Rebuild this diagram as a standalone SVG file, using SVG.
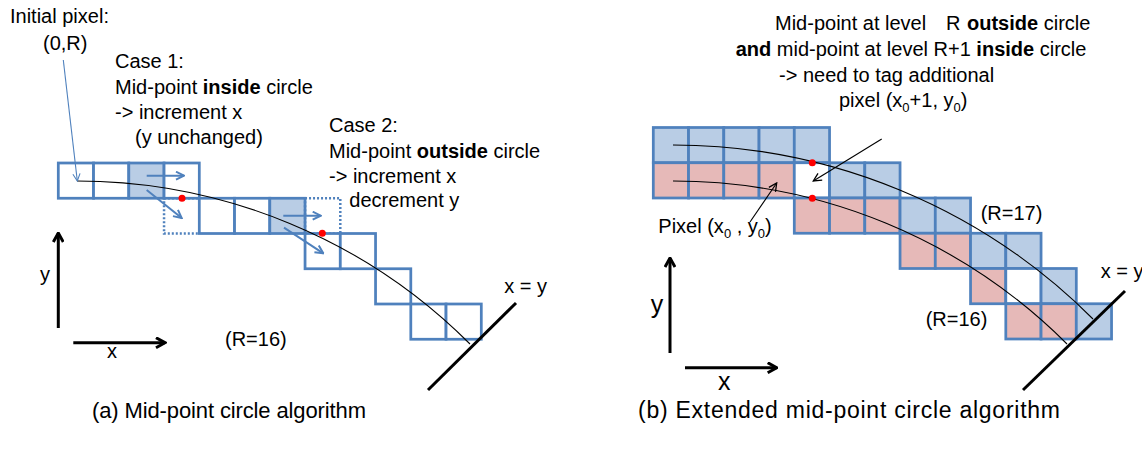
<svg xmlns="http://www.w3.org/2000/svg" width="1142" height="451" viewBox="0 0 1142 451">
<style>
text{font-family:"Liberation Sans",Arial,sans-serif;font-size:20px;fill:#000}
.b{font-weight:bold}
.sub{font-size:13px}
.cap{font-size:22px}
.cell{stroke:#4f81bd;stroke-width:2.75;fill:#fff}
.blue{fill:#b9cde5}
.pink{fill:#e6b9b8}
.dot{stroke:#4f81bd;stroke-width:2.5;fill:none;stroke-dasharray:2 2}
.arc{fill:none;stroke:#000;stroke-width:1.1}
.xy{stroke:#000;stroke-width:3}
.red{fill:#f00}
.barr{stroke:#4f81bd;stroke-width:2;fill:none}
.ax{stroke:#000;stroke-width:3;fill:none}
.thin{stroke:#000;stroke-width:1.1;fill:none}
</style>
<defs>
<marker id="mb" viewBox="0 0 10 10" refX="9" refY="5" markerUnits="userSpaceOnUse" markerWidth="10" markerHeight="10" orient="auto"><path d="M1,1 L9,5 L1,9" fill="none" stroke="#4f81bd" stroke-width="2"/></marker>
<marker id="mbt" viewBox="0 0 10 10" refX="9" refY="5" markerUnits="userSpaceOnUse" markerWidth="9" markerHeight="9" orient="auto"><path d="M1,1 L9,5 L1,9" fill="none" stroke="#4f81bd" stroke-width="1.2"/></marker>
<marker id="mk" viewBox="0 0 12 12" refX="10.5" refY="6" markerUnits="userSpaceOnUse" markerWidth="12" markerHeight="12" orient="auto"><path d="M1.5,1 L10.5,6 L1.5,11" fill="none" stroke="#000" stroke-width="3"/></marker>
<marker id="mkt" viewBox="0 0 10 10" refX="9" refY="5" markerUnits="userSpaceOnUse" markerWidth="10" markerHeight="10" orient="auto"><path d="M1,1 L9,5 L1,9" fill="none" stroke="#000" stroke-width="1.3"/></marker>
</defs>

<!-- Left panel grid -->
<g id="left-grid">
<rect class="cell" x="58.3" y="163" width="35.25" height="35.25"/>
<rect class="cell" x="93.55" y="163" width="35.25" height="35.25"/>
<rect class="cell blue" x="128.8" y="163" width="35.25" height="35.25"/>
<rect class="cell" x="164.05" y="163" width="35.25" height="35.25"/>
<rect class="dot" x="164.05" y="198.25" width="35.25" height="35.25"/>
<rect class="cell" x="199.3" y="198.25" width="35.25" height="35.25"/>
<rect class="cell" x="234.55" y="198.25" width="35.25" height="35.25"/>
<rect class="cell blue" x="269.8" y="198.25" width="35.25" height="35.25"/>
<rect class="dot" x="305.05" y="198.25" width="35.25" height="35.25"/>
<rect class="cell" x="305.05" y="233.5" width="35.25" height="35.25"/>
<rect class="cell" x="340.3" y="233.5" width="35.25" height="35.25"/>
<rect class="cell" x="375.55" y="268.75" width="35.25" height="35.25"/>
<rect class="cell" x="410.8" y="304" width="35.25" height="35.25"/>
<rect class="cell" x="446.05" y="304" width="35.25" height="35.25"/>
</g>
<g id="left-curve">
<path class="arc" d="M77,181 A556,556 0 0 1 470,344"/>
<line class="xy" x1="428" y1="390" x2="516" y2="303"/>
<circle class="red" cx="182" cy="198.3" r="3.5"/>
<circle class="red" cx="322.3" cy="233.3" r="3.5"/>
</g>

<!-- Right panel grid -->
<g id="right-grid">
<rect class="cell blue" x="653.3" y="127.5" width="35.25" height="35.25"/>
<rect class="cell blue" x="688.55" y="127.5" width="35.25" height="35.25"/>
<rect class="cell blue" x="723.8" y="127.5" width="35.25" height="35.25"/>
<rect class="cell blue" x="759.05" y="127.5" width="35.25" height="35.25"/>
<rect class="cell blue" x="794.3" y="127.5" width="35.25" height="35.25"/>
<rect class="cell pink" x="653.3" y="162.75" width="35.25" height="35.25"/>
<rect class="cell pink" x="688.55" y="162.75" width="35.25" height="35.25"/>
<rect class="cell pink" x="723.8" y="162.75" width="35.25" height="35.25"/>
<rect class="cell pink" x="759.05" y="162.75" width="35.25" height="35.25"/>
<rect class="cell" x="794.3" y="162.75" width="35.25" height="35.25"/>
<rect class="cell blue" x="829.55" y="162.75" width="35.25" height="35.25"/>
<rect class="cell blue" x="864.8" y="162.75" width="35.25" height="35.25"/>
<rect class="cell pink" x="794.3" y="198" width="35.25" height="35.25"/>
<rect class="cell pink" x="829.55" y="198" width="35.25" height="35.25"/>
<rect class="cell pink" x="864.8" y="198" width="35.25" height="35.25"/>
<rect class="cell blue" x="900.05" y="198" width="35.25" height="35.25"/>
<rect class="cell blue" x="935.3" y="198" width="35.25" height="35.25"/>
<rect class="cell pink" x="900.05" y="233.25" width="35.25" height="35.25"/>
<rect class="cell pink" x="935.3" y="233.25" width="35.25" height="35.25"/>
<rect class="cell blue" x="970.55" y="233.25" width="35.25" height="35.25"/>
<rect class="cell blue" x="1005.8" y="233.25" width="35.25" height="35.25"/>
<rect class="cell pink" x="970.55" y="268.5" width="35.25" height="35.25"/>
<rect class="cell" x="1005.8" y="268.5" width="35.25" height="35.25"/>
<rect class="cell blue" x="1041.05" y="268.5" width="35.25" height="35.25"/>
<rect class="cell pink" x="1005.8" y="303.75" width="35.25" height="35.25"/>
<rect class="cell pink" x="1041.05" y="303.75" width="35.25" height="35.25"/>
<rect class="cell blue" x="1076.3" y="303.75" width="35.25" height="35.25"/>
</g>
<g id="right-curves">
<path class="arc" d="M673,145 A594,594 0 0 1 1093,319"/>
<path class="arc" d="M673,181 A557,557 0 0 1 1067,344"/>
<line class="xy" x1="1023" y1="390" x2="1125" y2="291"/>
<circle class="red" cx="812.3" cy="162.7" r="3.5"/>
<circle class="red" cx="812.3" cy="198.3" r="3.5"/>
</g>

<!-- Connectors -->
<g id="connectors">
<line stroke="#4f81bd" stroke-width="1.1" x1="63.3" y1="60" x2="77.3" y2="181" marker-end="url(#mbt)"/>
<line class="barr" x1="146.7" y1="175.7" x2="184" y2="175.7" marker-end="url(#mb)"/>
<line class="barr" x1="146.7" y1="190" x2="181.7" y2="218" marker-end="url(#mb)"/>
<line class="barr" x1="283.3" y1="215.7" x2="320.7" y2="215.7" marker-end="url(#mb)"/>
<line class="barr" x1="284" y1="227.7" x2="323.3" y2="253.3" marker-end="url(#mb)"/>
<line class="ax" x1="58.3" y1="328" x2="58.3" y2="233" marker-end="url(#mk)"/>
<line class="ax" x1="73.3" y1="342.7" x2="165" y2="342.7" marker-end="url(#mk)"/>
<line class="thin" x1="881.7" y1="139" x2="813.3" y2="181" marker-end="url(#mkt)"/>
<line class="thin" x1="750" y1="222" x2="776.7" y2="183" marker-end="url(#mkt)"/>
<line class="ax" x1="670" y1="353" x2="670" y2="258" marker-end="url(#mk)"/>
<line class="ax" x1="685" y1="367.7" x2="776.7" y2="367.7" marker-end="url(#mk)"/>
</g>

<!-- Left labels -->
<g id="left-labels">
<text x="10" y="23.3">Initial pixel:</text>
<text x="43" y="50">(0,R)</text>
<text x="115" y="68.3">Case 1:</text>
<text x="115" y="94">Mid-point <tspan class="b">inside</tspan> circle</text>
<text x="115" y="119.3">-&gt; increment x</text>
<text x="135" y="144">(y unchanged)</text>
<text x="329" y="132.3">Case 2:</text>
<text x="329" y="158.3">Mid-point <tspan class="b">outside</tspan> circle</text>
<text x="329" y="183.3">-&gt; increment x</text>
<text x="349.3" y="206.7">decrement y</text>
<text x="40" y="281">y</text>
<text x="107" y="358">x</text>
<text x="225" y="346">(R=16)</text>
<text x="504.3" y="293.3">x = y</text>
<text class="cap" x="92" y="418" textLength="274" lengthAdjust="spacing">(a) Mid-point circle algorithm</text>
</g>

<!-- Right labels -->
<g id="right-labels">
<text x="775" y="30">Mid-point at level<tspan x="946">R</tspan><tspan x="967" class="b">outside</tspan> circle</text>
<text x="735.7" y="56"><tspan class="b">and</tspan> mid-point at level R+1 <tspan class="b">inside</tspan> circle</text>
<text x="779" y="82">-&gt; need to tag additional</text>
<text x="839" y="107">pixel (x<tspan class="sub" dy="5">0</tspan><tspan dy="-5">+1, y</tspan><tspan class="sub" dy="5">0</tspan><tspan dy="-5">)</tspan></text>
<text x="658.3" y="233.3">Pixel (x<tspan class="sub" dy="5">0</tspan><tspan dy="-5"> , y</tspan><tspan class="sub" dy="5">0</tspan><tspan dy="-5">)</tspan></text>
<text x="980.7" y="220">(R=17)</text>
<text x="925.7" y="326">(R=16)</text>
<text x="1100.7" y="278.3">x = y</text>
<text x="650.7" y="313.3" style="font-size:25px">y</text>
<text x="718" y="390" style="font-size:25px">x</text>
<text x="638" y="418" style="font-size:23px" textLength="422" lengthAdjust="spacing">(b) Extended mid-point circle algorithm</text>
</g>
</svg>
